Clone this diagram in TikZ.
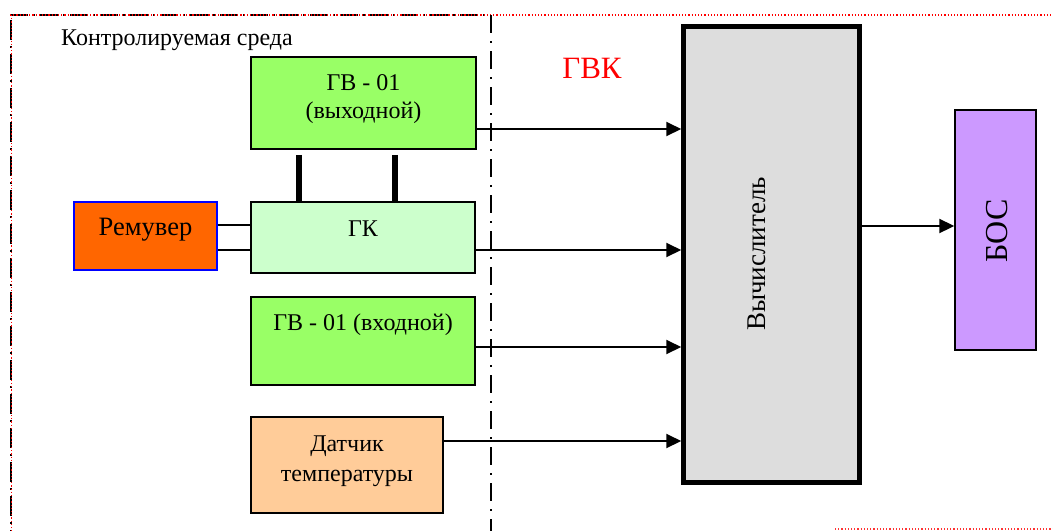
\documentclass[tikz,border=0pt]{standalone}
\usepackage{fontspec}
\setmainfont{Liberation Serif}
\usetikzlibrary{arrows.meta}
\definecolor{gvgreen}{HTML}{99FF66}
\definecolor{gkgreen}{HTML}{CCFFCC}
\definecolor{remor}{HTML}{FF6600}
\definecolor{peach}{HTML}{FFCC99}
\definecolor{calcgray}{HTML}{DDDDDD}
\definecolor{bospurp}{HTML}{CC99FF}
\tikzset{
  blk/.style={draw=black, line width=1.8pt, inner sep=0pt, align=center},
  lbl/.style={font=\fontsize{24}{28}\selectfont, align=center, inner sep=0pt},
  arr/.style={line width=2pt, -{Triangle[length=15pt,width=14pt]}},
  link/.style={line width=1.6pt},
  thick link/.style={line width=5.5pt},
}
\begin{document}
\begin{tikzpicture}[x=1pt,y=-1pt]
\useasboundingbox (0,0) rectangle (1053,531);
% frame lines
\draw[black, line width=1.8pt, dash pattern=on 18pt off 5pt on 2pt off 5pt] (10,15) -- (491,15);
\draw[red, line width=1.1pt, dash pattern=on 1.2pt off 2pt] (10,15) -- (1053,15);
\draw[black, line width=2pt, dash pattern=on 20pt off 6pt on 2pt off 6pt] (11,20) -- (11,531);
\draw[red, line width=0.9pt, dash pattern=on 1.2pt off 2pt] (11,15) -- (11,531);
\draw[black, line width=2pt, dash pattern=on 18pt off 8pt on 2pt off 8pt] (491,15) -- (491,531);
\draw[red!80, line width=1.1pt, dash pattern=on 1.2pt off 2pt] (835,529) -- (1053,529);

% texts
\node[lbl, anchor=west, font=\fontsize{24}{28}\selectfont] (env) at (61,40) {Контролируемая среда};
\node[lbl, text=red, font=\fontsize{31}{36}\selectfont] (gvk) at (592,68) {ГВК};

% blocks
\node[blk, fill=gvgreen, minimum width=225pt, minimum height=92pt] (gvout) at (363.5,103) {};
\node[lbl] (gvoutt) at (363.5,99.5) {ГВ - 01\\(выходной)};
\node[blk, fill=gkgreen, minimum width=224pt, minimum height=71pt] (gk) at (363,237.5) {};
\node[lbl] (gkt) at (363,229) {ГК};
\node[blk, draw=blue, line width=1.4pt, fill=remor, minimum width=143pt, minimum height=68pt] (rem) at (145.5,236) {};
\node[lbl, font=\fontsize{26.5}{30}\selectfont] (remt) at (145.5,230) {Ремувер};
\node[blk, fill=gvgreen, minimum width=224pt, minimum height=88pt] (gvin) at (363,341) {};
\node[lbl] (gvint) at (363,325) {ГВ - 01 (входной)};
\node[blk, fill=peach, minimum width=192pt, minimum height=96pt] (dt) at (347,465) {};
\node[lbl] (dtt) at (347,461) {Датчик\\[2pt]температуры};
\node[blk, fill=calcgray, line width=4.5pt, minimum width=176pt, minimum height=456pt] (calc) at (771.5,254.5) {};
\node[lbl, rotate=90, font=\fontsize{27}{30}\selectfont] (calct) at (757,254) {Вычислитель};
\node[blk, fill=bospurp, line width=1.4pt, minimum width=81pt, minimum height=240pt] (bos) at (995.5,230) {};
\node[lbl, rotate=90, font=\fontsize{32}{36}\selectfont] (bost) at (997,231) {БОС};

% connectors
\draw[arr] ([yshift=-26pt]gvout.east) coordinate (a1) -- (a1 -| calc.west);
\draw[arr] ([yshift=-12.5pt]gk.east) coordinate (a2) -- (a2 -| calc.west);
\draw[arr] ([yshift=-6pt]gvin.east) coordinate (a3) -- (a3 -| calc.west);
\draw[arr] ([yshift=24pt]dt.east) coordinate (a4) -- (a4 -| calc.west);
\draw[arr] ([yshift=28.5pt]calc.east) coordinate (a5) -- (a5 -| bos.west);
\draw[link] ([yshift=11pt]rem.east) coordinate (r1) -- (r1 -| gk.west);
\draw[link] ([yshift=-14pt]rem.east) coordinate (r2) -- (r2 -| gk.west);
\draw[thick link] ([xshift=-64.5pt,yshift=-5pt]gvout.south) coordinate (t1) -- (t1 |- gk.north);
\draw[thick link] ([xshift=31.5pt,yshift=-5pt]gvout.south) coordinate (t2) -- (t2 |- gk.north);
\end{tikzpicture}
\end{document}
